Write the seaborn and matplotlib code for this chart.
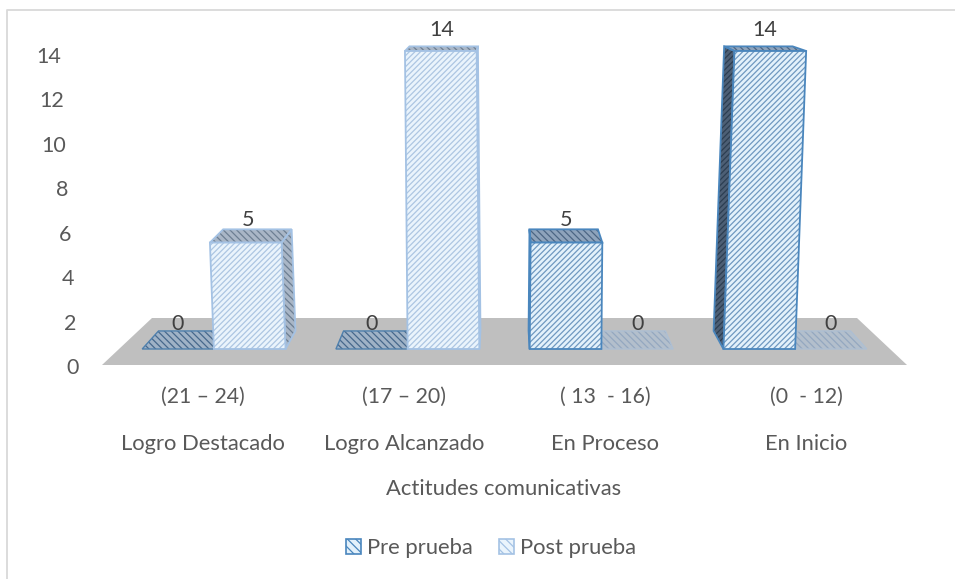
import numpy as np
import pandas as pd
import seaborn as sns
import matplotlib
matplotlib.use('Agg')
import matplotlib.pyplot as plt
from matplotlib.lines import Line2D
from matplotlib.patches import Polygon, Rectangle
from matplotlib.transforms import IdentityTransform, ScaledTranslation

# data
niveles = ['Logro Destacado', 'Logro Alcanzado', 'En Proceso', 'En Inicio']
rangos = ['(21 – 24)', '(17 – 20)', '( 13  - 16)', '(0  - 12)']
pre_prueba = [0, 0, 5, 14]
post_prueba = [5, 14, 0, 0]
y_ticks = [0, 2, 4, 6, 8, 10, 12, 14]

df = pd.DataFrame({'nivel': niveles * 2,
                   'n': pre_prueba + post_prueba,
                   'grupo': ['Pre prueba'] * 4 + ['Post prueba'] * 4})

sns.set_style('white')
plt.rcParams['font.family'] = ['Lato', 'DejaVu Sans']
plt.rcParams['hatch.linewidth'] = 0.9

W, H = 955, 579
TXT = '#595959'
fig = plt.figure(figsize=(W / 100, H / 100), dpi=100)
ax = fig.add_axes([117 / W, 1 - 349 / H, 775 / W, 298 / H])

sns.barplot(data=df, x='nivel', y='n', hue='grupo', order=niveles, dodge=True,
            palette=['#e3f1fb', '#eaf4fc'], width=0.74, gap=0, legend=False, ax=ax)
ax.set_xlim(-0.5, 3.5)
ax.set_ylim(0, 14)
fig.canvas.draw()

# fake 3D: everything recedes to one vanishing point, in pixels
VP_X, VP_Y = 505, H + 52
DEPTH = 0.045
LEAN = 0.0031

estilos = {
    'Pre prueba': dict(face='#e3f1fb', hatch='#6f98c0', edge='#4a86bd', side='#8ea3bb',
                       side_hatch='#4c6684', flat='#9fb2c6', flat_hatch='#47688c', flat_edge='#4f80ad'),
    'Post prueba': dict(face='#eaf4fc', hatch='#adc6e2', edge='#a4c2e4', side='#a9b6c6',
                        side_hatch='#6d7f93', flat='#b3bfcc', flat_hatch='#94a8c0', flat_edge='#aebfd3'),
}


def atras(p):
    return (p[0] + (VP_X - p[0]) * DEPTH, p[1] + (VP_Y - p[1]) * DEPTH)


def poner(pts, color, hatch_col, edge, hatch, z, lw=1.3):
    ax.add_patch(Polygon(pts, closed=True, transform=IdentityTransform(), facecolor=color,
                         edgecolor=hatch_col, hatch=hatch, lw=0, zorder=z, clip_on=False))
    ax.add_patch(Polygon(pts, closed=True, transform=IdentityTransform(), fill=False,
                         edgecolor=edge, lw=lw, zorder=z + 0.01, clip_on=False))


# grey floor
x0 = ax.transData.transform((-0.5, 0))
x1 = ax.transData.transform((3.5, 0))
ax.add_patch(Polygon([(x0[0] - 15, x0[1] - 16), (x1[0] + 15, x1[1] - 16),
                      (x1[0] - 35, x1[1] + 31), (x0[0] + 35, x0[1] + 31)],
                     closed=True, transform=IdentityTransform(), facecolor='#bfbfbf',
                     edgecolor='none', zorder=0.5, clip_on=False))

nombres = ['Pre prueba'] * 4 + ['Post prueba'] * 4
for bar, grupo in zip(ax.patches[:8], nombres):
    e = estilos[grupo]
    xb, w, h = bar.get_x(), bar.get_width(), bar.get_height()
    (l, b), (r, t) = ax.transData.transform([(xb, 0), (xb + w, h)])
    cx = (l + r) / 2
    bar.set_visible(False)
    if h == 0:
        bl, br = (l, b), (r, b)
        poner([bl, br, atras(br), atras(bl)], e['flat'], e['flat_hatch'], e['flat_edge'],
              '\\\\\\\\\\', 1.2, lw=1.0)
        y_txt = atras(bl)[1] + 7
        x_txt = cx
    else:
        shift = (cx - VP_X) * LEAN * h
        bl, br = (l, b), (r, b)
        tl, tr = (l + shift, t), (r + shift, t)
        poner([tl, tr, atras(tr), atras(tl)], e['side'], e['side_hatch'], e['edge'], '\\\\\\\\\\', 1.5)
        if cx < VP_X:
            poner([br, tr, atras(tr), atras(br)], e['side'], e['side_hatch'], e['edge'], '\\\\\\\\\\', 1.5)
        else:
            poner([bl, tl, atras(tl), atras(bl)], '#4d5f75', '#2c3e52', e['edge'], '//////', 1.5)
        poner([bl, br, tr, tl], e['face'], e['hatch'], e['edge'], '//////', 2)
        y_txt = atras(tl)[1] + 6 + 0.75 * h
        x_txt = cx + shift / 2
    ax.text(x_txt, y_txt, str(int(h)), transform=IdentityTransform(), ha='center', va='center',
            fontsize=15.5, color='#404040', zorder=5)

# axis text
sns.despine(ax=ax, left=True, bottom=True)
ax.grid(False)
ax.set_yticks(y_ticks)
ax.set_ylabel('')
ax.tick_params(axis='y', length=0, labelsize=15.5, labelcolor=TXT, pad=0)
# the wall of the 3D box is slanted so the labels walk to the left going up
for v, lab in zip(y_ticks, ax.get_yticklabels()):
    dx = (79 - 18 * v / 14) - 117
    dy = -(17 - 0.93 * v)
    lab.set_transform(lab.get_transform() + ScaledTranslation(dx / 100, dy / 100, fig.dpi_scale_trans))

# category text sits on a slightly wider spacing than the bars
pos_texto = [1.5 + (i - 1.5) * 1.038 for i in range(4)]
ax.set_xticks(pos_texto, rangos)
ax.tick_params(axis='x', length=0, labelsize=15.3, labelcolor=TXT, pad=27.5)
ax.set_xlabel('')
for xp, txt in zip(pos_texto, niveles):
    fig.text(ax.transData.transform((xp, 0))[0] / W, 1 - 444 / H, txt, fontsize=15.8,
             color=TXT, ha='center', va='center')
fig.text(504 / W, 1 - 489 / H, 'Actitudes comunicativas', fontsize=15.8, color=TXT,
         ha='center', va='center')

# legend
handles = [Rectangle((0, 0), 1, 1, facecolor=estilos[g]['face'], edgecolor=estilos[g]['edge'],
                     hatch='\\\\\\\\', lw=1.2) for g in ['Pre prueba', 'Post prueba']]
fig.legend(handles, ['Pre prueba', 'Post prueba'], loc='center', bbox_to_anchor=(491 / W, 1 - 548 / H),
           ncol=2, frameon=False, fontsize=15.8, labelcolor=TXT, handlelength=0.68, handleheight=0.68,
           handletextpad=0.27, columnspacing=1.18)

# chart frame, only top and left show in the crop
fig.add_artist(Line2D([7 / W, 7 / W, 1], [0, 1 - 9.5 / H, 1 - 9.5 / H], color='#d9d9d9', lw=1.3))

fig.savefig('out.png', dpi=100)
